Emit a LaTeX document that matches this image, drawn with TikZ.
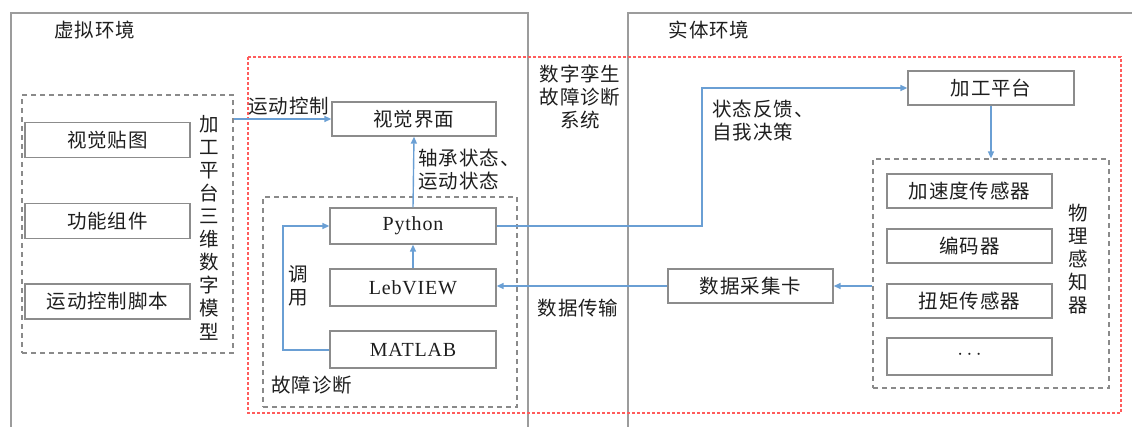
\documentclass[tikz,border=0pt]{standalone}
\usepackage{fontspec}
\setmainfont{Noto Sans CJK SC}[LetterSpace=5]
\newfontfamily\latinfont{Liberation Serif}[LetterSpace=4]
\usetikzlibrary{arrows.meta,calc}
\definecolor{txt}{HTML}{1E1E1E}
\definecolor{bgray}{HTML}{8C8C8C}
\definecolor{ogray}{HTML}{9C9C9C}
\definecolor{dgray}{HTML}{8A8A8A}
\definecolor{rdash}{HTML}{FF5C5C}
\definecolor{ablue}{HTML}{6A9FD4}
\newcommand{\zh}{\fontsize{19.5}{23}\selectfont}
\newcommand{\lt}{\latinfont\fontsize{20}{23}\selectfont}
\begin{document}
\begin{tikzpicture}[x=1pt,y=-1pt,
  every node/.style={text=txt, inner sep=0pt},
  box/.style={draw=bgray, line width=1.3pt, minimum width=165pt, minimum height=35pt, font=\zh},
  grp/.style={draw=dgray, line width=1.2pt, dash pattern=on 5pt off 4pt},
  outer/.style={draw=ogray, line width=1.8pt},
  reddash/.style={draw=rdash, line width=1.1pt, dash pattern=on 3pt off 2pt},
  arr/.style={draw=ablue, line width=1.4pt, -{Triangle[length=7pt,width=6pt]}},
  lbl/.style={font=\zh, align=left},
  vlbl/.style={font=\zh, align=center}]
\clip (0,0) rectangle (1132,426);
% outer environments
\draw[outer] (11,440) -- (11,13) -- (528,13) -- (528,440);
\draw[outer] (628,440) -- (628,13) -- (1145,13);
\node[font=\zh] (vEnv) at (95,30) {虚拟环境};
\node[font=\zh] (rEnv) at (709,30) {实体环境};
% red dashed system
\draw[reddash] (248,57) rectangle (1121,413);
\node[vlbl] (sysLbl) at (580,96.5) {数字孪生\\故障诊断\\系统};
% left group
\node[grp, minimum width=211pt, minimum height=258pt] (lg) at (127.5,224) {};
\node[box] (vt) at (107.5,140) {视觉贴图};
\node[box] (gn) at (107.5,221) {功能组件};
\node[box] (yd) at (107.5,301.5) {运动控制脚本};
\node[vlbl, font=\fontsize{19.5}{23.1}\selectfont] (mdl) at (209,227.5) {加\\工\\平\\台\\三\\维\\数\\字\\模\\型};
% visual interface
\node[box, minimum width=164pt, minimum height=34pt] (sj) at (414,119) {视觉界面};
\node[lbl] (ctl) at (289,106) {运动控制};
\draw[arr] (lg.east |- sj.west) -- (sj.west);
% fault diagnosis group
\node[grp, minimum width=254pt, minimum height=210pt] (fd) at (390,302) {};
\node[lbl] (fdl) at (312,385) {故障诊断};
\node[box, font=\lt, minimum width=166pt, minimum height=36pt] (py) at (413,226) {Python};
\node[box, font=\lt, minimum width=166pt, minimum height=37pt] (lv) at (413,287.5) {LebVIEW};
\node[box, font=\lt, minimum width=166pt, minimum height=37pt] (ml) at (413,349.5) {MATLAB};
\draw[arr] (py.north) -- (sj.south);
\draw[arr] (lv.north) -- (py.south);
\coordinate (callTurn) at (283,350);
\draw[arr] (ml.west |- callTurn) -- (callTurn) |- (py.west);
\node[vlbl] (callLbl) at (298,286) {调\\用};
\node[lbl, anchor=north west] (stLbl) at (418,148.5) {轴承状态、\\运动状态};
% physical side
\node[box, minimum width=166pt, minimum height=34pt] (jg) at (991,88) {加工平台};
\coordinate (fbTurn) at (702,88);
\draw[arr] (py.east) -| (fbTurn) -- (jg.west);
\node[lbl, anchor=north west] (fbLbl) at (712,99.5) {状态反馈、\\自我决策};
\node[grp, minimum width=236pt, minimum height=229pt] (sd) at (991,273.5) {};
\draw[arr] (jg.south) -- (sd.north -| jg.south);
\node[box, minimum height=34pt] (s1) at (969.5,191) {加速度传感器};
\node[box, minimum height=34pt] (s2) at (969.5,246) {编码器};
\node[box, minimum height=34pt] (s3) at (969.5,301) {扭矩传感器};
\node[box, minimum height=37pt] (s4) at (969.5,356.5) {\raisebox{3pt}{$\cdots$}};
\node[vlbl] (sensLbl) at (1078,259) {物\\理\\感\\知\\器};
\node[box, minimum height=34pt] (dc) at (750.5,286) {数据采集卡};
\draw[arr] (sd.west |- dc.east) -- (dc.east);
\draw[arr] (dc.west) -- (dc.west -| lv.east);
\node[lbl] (trLbl) at (578,308.5) {数据传输};
\end{tikzpicture}
\end{document}
